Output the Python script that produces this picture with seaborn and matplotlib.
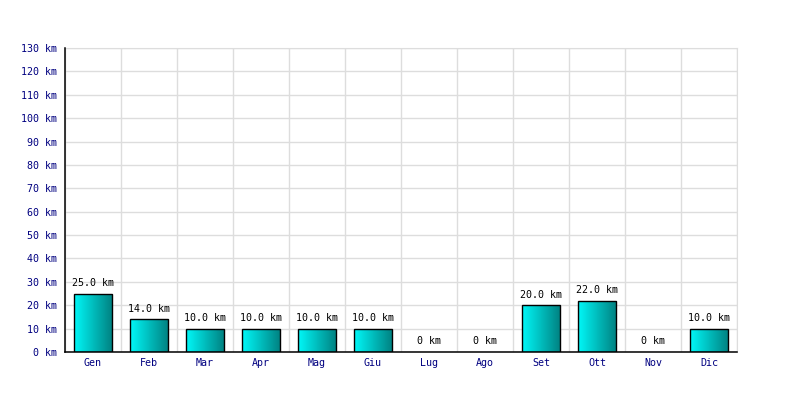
import numpy as np
import pandas as pd
import matplotlib
matplotlib.use('Agg')
import matplotlib.pyplot as plt
import seaborn as sns
from matplotlib.colors import LinearSegmentedColormap

# dati mensili (km)
mesi = ['Gen', 'Feb', 'Mar', 'Apr', 'Mag', 'Giu', 'Lug', 'Ago', 'Set', 'Ott', 'Nov', 'Dic']
km = [25.0, 14.0, 10.0, 10.0, 10.0, 10.0, 0.0, 0.0, 20.0, 22.0, 0.0, 10.0]
y_ticks = list(range(0, 140, 10))

df = pd.DataFrame({'mese': mesi, 'km': km})

sns.set_style('white')
plt.rcParams['font.family'] = ['DejaVu Sans Mono']

fig = plt.figure(figsize=(8, 4), dpi=100)
ax = fig.add_axes([0.08125, 0.12, 0.84, 0.76])

sns.barplot(data=df, x='mese', y='km', color='#00cccc', width=0.68,
            edgecolor='black', linewidth=1, ax=ax, zorder=3)

# gradiente ciano -> teal dentro ogni barra
cmap = LinearSegmentedColormap.from_list('cy', ['#00f8f8', '#008080'])
grad = np.linspace(0, 1, 256).reshape(1, -1)
for p in ax.patches:
    x0, y0 = p.get_x(), p.get_y()
    w, h = p.get_width(), p.get_height()
    if h <= 0:
        p.set_visible(False)
        continue
    im = ax.imshow(grad, cmap=cmap, aspect='auto', extent=[x0, x0 + w, y0, y0 + h],
                   zorder=3.5, interpolation='bilinear')
    im.set_clip_path(p)
    p.set_facecolor('none')
    p.set_zorder(4)

# etichette valori
for i, v in enumerate(km):
    txt = f'{v:.1f} km' if v > 0 else '0 km'
    ax.annotate(txt, (i, v), xytext=(0, 4), textcoords='offset points',
                ha='center', va='bottom', fontsize=7.2, color='black')

ax.set_xlim(-0.5, len(mesi) - 0.5)
ax.set_ylim(0, 130)
ax.set_yticks(y_ticks)
ax.set_yticklabels([f'{t} km' for t in y_ticks])
ax.set_xticks(np.arange(-0.5, len(mesi), 1), minor=True)
ax.grid(True, which='major', axis='y', color='#dddddd', linewidth=1, zorder=0)
ax.grid(True, which='minor', axis='x', color='#dddddd', linewidth=1, zorder=0)
ax.grid(False, which='major', axis='x')
ax.tick_params(axis='both', which='both', length=0, labelsize=7.2, labelcolor='#000080')
ax.tick_params(axis='y', pad=6)
ax.tick_params(axis='x', pad=4)
ax.set_xlabel('')
ax.set_ylabel('')

for s in ['top', 'right']:
    ax.spines[s].set_color('#dddddd')
for s in ['left', 'bottom']:
    ax.spines[s].set_color('black')
    ax.spines[s].set_linewidth(1.1)
    ax.spines[s].set_zorder(5)

fig.savefig('out.png', dpi=100)
